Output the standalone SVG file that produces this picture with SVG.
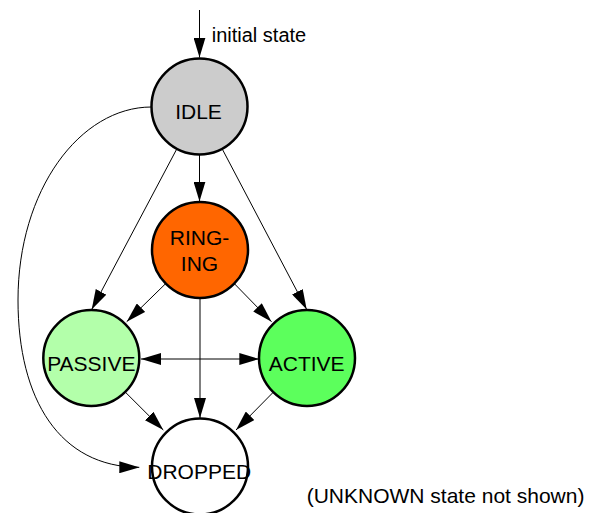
<svg xmlns="http://www.w3.org/2000/svg" width="591" height="513" viewBox="0 0 591 513">
  <style>
    .edge { fill: none; stroke: #000; stroke-width: 1; }
    .state { stroke: #000; stroke-width: 2.5; }
    .label { font-family: "Liberation Sans", Arial, sans-serif; font-size: 21px; fill: #000; text-anchor: middle; }
    .note { font-family: "Liberation Sans", Arial, sans-serif; fill: #000; }
  </style>
  <defs>
    <marker id="arrow" markerUnits="userSpaceOnUse" viewBox="0 0 20 12" refX="20" refY="6" markerWidth="20" markerHeight="12" orient="auto-start-reverse">
      <path d="M0,0 L20,6 L0,12 z" fill="#000"/>
    </marker>
  </defs>
  <rect width="591" height="513" fill="#fff"/>

  <g id="connectors">
    <!-- entry into the initial state -->
    <line class="edge" x1="199.5" y1="10" x2="199.5" y2="57.5" marker-end="url(#arrow)"/>
    <!-- IDLE transitions -->
    <line class="edge" x1="199.5" y1="155" x2="199.5" y2="201.5" marker-end="url(#arrow)"/>
    <line class="edge" x1="176.5" y1="149.5" x2="91.7" y2="309.5" marker-end="url(#arrow)"/>
    <line class="edge" x1="222.5" y1="149.5" x2="306.7" y2="309.5" marker-end="url(#arrow)"/>
    <path class="edge" d="M151.5,107 C80,107 18,190 18,300 C18,400 60,467 139.3,467.3" marker-end="url(#arrow)"/>
    <!-- RINGING transitions -->
    <line class="edge" x1="165.7" y1="283.6" x2="126.7" y2="321.7" marker-end="url(#arrow)"/>
    <line class="edge" x1="234.3" y1="283.6" x2="271.5" y2="321.7" marker-end="url(#arrow)"/>
    <line class="edge" x1="200" y1="298" x2="200" y2="418" marker-end="url(#arrow)"/>
    <!-- PASSIVE <-> ACTIVE -->
    <line class="edge" x1="141" y1="359" x2="259.3" y2="359" marker-start="url(#arrow)" marker-end="url(#arrow)"/>
    <!-- into DROPPED -->
    <line class="edge" x1="125.2" y1="392" x2="163.3" y2="430" marker-end="url(#arrow)"/>
    <line class="edge" x1="273.2" y1="392.3" x2="236" y2="430" marker-end="url(#arrow)"/>
  </g>

  <g id="idle">
    <circle class="state" cx="199.5" cy="106.5" r="48" fill="#cccccc"/>
    <text class="label" x="198.5" y="119">IDLE</text>
  </g>
  <g id="ringing">
    <circle class="state" cx="200" cy="250" r="48" fill="#ff6600"/>
    <text class="label" x="199.5" y="245">RING-</text>
    <text class="label" x="199.5" y="270.7">ING</text>
  </g>
  <g id="passive">
    <circle class="state" cx="91.3" cy="358" r="48" fill="#b3ffaa"/>
    <text class="label" x="91.3" y="370.7">PASSIVE</text>
  </g>
  <g id="active">
    <circle class="state" cx="307" cy="358" r="48" fill="#5cff5c"/>
    <text class="label" x="306.7" y="370.7">ACTIVE</text>
  </g>
  <g id="dropped">
    <circle class="state" cx="200" cy="466.5" r="48" fill="#ffffff"/>
    <text class="label" x="199.2" y="479">DROPPED</text>
  </g>

  <text class="note" x="211.7" y="41.7" font-size="20">initial state</text>
  <text class="note" x="306.7" y="503" font-size="21">(UNKNOWN state not shown)</text>
</svg>
